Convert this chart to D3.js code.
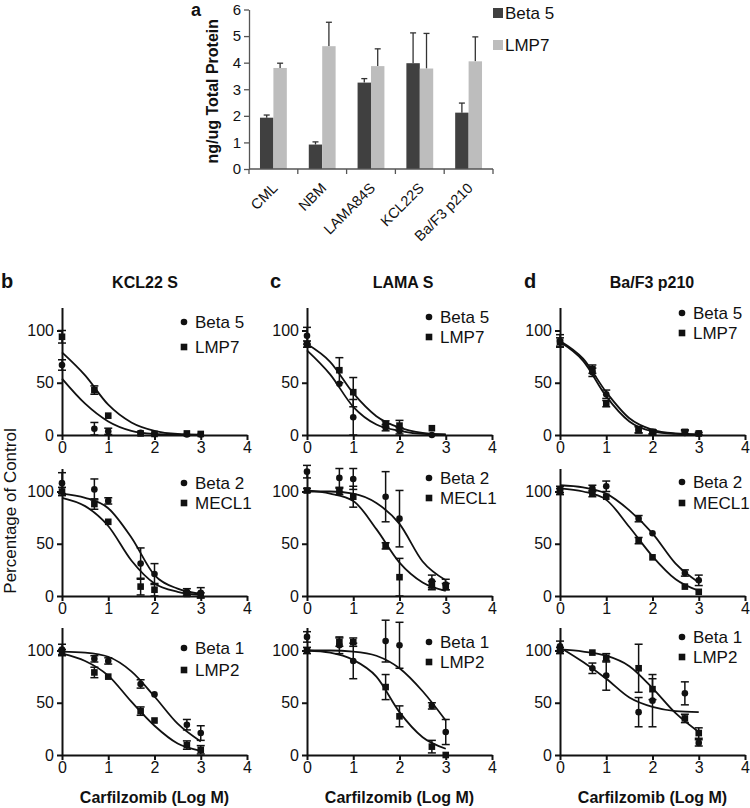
<!DOCTYPE html>
<html><head><meta charset="utf-8">
<script src="https://cdn.jsdelivr.net/npm/d3@7"></script>
<style>
body{margin:0;background:#fff}
svg{display:block}
text{font-family:"Liberation Sans",Arial,Helvetica,sans-serif;fill:#111}
</style>
</head><body>
<svg id="chart" width="750" height="808"></svg>
<script>
// ---------- panel a: bar chart data ----------
const barCats = ["CML", "NBM", "LAMA84S", "KCL22S", "Ba/F3 p210"];
const barSeries = ["Beta 5", "LMP7"];
const beta5Vals = [1.93, 0.92, 3.25, 3.98, 2.12];
const beta5Err  = [0.10, 0.10, 0.15, 1.14, 0.36];
const lmp7Vals  = [3.80, 4.62, 3.87, 3.78, 4.05];
const lmp7Err   = [0.18, 0.90, 0.65, 1.32, 0.92];
const barYTicks = [0, 1, 2, 3, 4, 5, 6];

// ---------- panels b-d: dose response data ----------
const doseLog = [0, 0.7, 1, 1.7, 2, 2.7, 3];
const fitLog  = [0, 0.5, 1, 1.5, 2, 2.5, 3];
const xTicks = [0, 1, 2, 3, 4];
const yTicks = [0, 50, 100];
const cellLines = ["KCL22 S", "LAMA S", "Ba/F3 p210"];
const panelLetters = ["b", "c", "d"];
const subunitPairs = [["Beta 5", "LMP7"], ["Beta 2", "MECL1"], ["Beta 1", "LMP2"]];

// KCL22 S
const kclBeta5 = [67, 6, 3.5, 2, 1, 0.5, 0.5];      const kclBeta5Err = [5, 6, 3, 0, 0, 0, 0];
const kclLmp7  = [94, 43, 18.5, 1.5, 1, 1.5, 1];    const kclLmp7Err  = [6, 4, 0, 0, 0, 0, 0];
const kclBeta5Fit = [54, 30, 13, 4, 1, 0.2, 0];
const kclLmp7Fit  = [79, 57, 29, 12, 4, 1, 0.3];
const kclBeta2 = [108, 102, 91, 31, 21, 4, 3];      const kclBeta2Err = [10, 10, 3, 15, 10, 3, 5];
const kclMecl1 = [100, 88, 71, 9, 6, 2, 1];         const kclMecl1Err = [4, 5, 0, 8, 6, 2, 2];
const kclBeta2Fit = [98, 94, 84, 56, 20, 7, 2];
const kclMecl1Fit = [94, 86, 67, 34, 12, 4, 1];
const kclBeta1 = [101, 92, 90, 68, 58, 29, 21];     const kclBeta1Err = [5, 3, 3, 4, 0, 5, 7];
const kclLmp2  = [98, 79, 75, 42, 33, 9.5, 5];      const kclLmp2Err  = [3, 5, 0, 4, 0, 4, 4];
const kclBeta1Fit = [99, 98, 94, 80, 56, 30, 13];
const kclLmp2Fit  = [97, 90, 76, 51, 28, 11, 4];

// LAMA S
const lamaBeta5 = [95, 49, 17, 7, 4, 0, null];      const lamaBeta5Err = [8, 0, 17, 3, 3, 0, 0];
const lamaLmp7  = [87, 62, 41, 10.5, 9, 6.5, null]; const lamaLmp7Err  = [3, 12, 14, 3, 5, 0, 0];
const lamaBeta5Fit = [81, 58, 27, 10, 4, 1, 0.3];
const lamaLmp7Fit  = [87, 70, 40, 18, 7, 2, 0.5];
const lamaBeta2 = [119, 113, 112, 95, 74, 14, 11];  const lamaBeta2Err = [6, 9, 10, 24, 27, 6, 5];
const lamaMecl1 = [101, 100, 95, 48, 18, 10, 9];    const lamaMecl1Err = [2, 3, 10, 3, 18, 4, 3];
const lamaBeta2Fit = [100, 100, 98, 89, 69, 33, 15];
const lamaMecl1Fit = [101, 98, 91, 64, 32, 13, 5];
const lamaBeta1 = [113, 105, 90, 109, 105, 47, 22]; const lamaBeta1Err = [5, 8, 17, 20, 22, 3, 12];
const lamaLmp2  = [100, 108, 108, 65, 37, 8, 0];    const lamaLmp2Err  = [3, 4, 4, 12, 10, 6, 0];
const lamaBeta1Fit = [100, 100, 99, 95, 83, 61, 33];
const lamaLmp2Fit  = [100, 98, 91, 75, 41, 17, 6];

// Ba/F3 p210
const bafBeta5 = [90, 60, 39, 5, 3, 2, 1.5];        const bafBeta5Err = [6, 4, 4, 3, 2, 2, 0];
const bafLmp7  = [89, 63, 30, 5, 3, 3, 1.5];        const bafLmp7Err  = [4, 4, 3, 3, 2, 2, 1];
const bafBeta5Fit = [90, 73, 41, 16, 5, 1.5, 0.5];
const bafLmp7Fit  = [89, 71, 37, 13, 3.5, 1, 0.3];
const bafBeta2 = [102, 103, 105, 74, 60, 22, 15];   const bafBeta2Err = [3, 3, 5, 3, 0, 3, 5];
const bafMecl1 = [100, 98, 95, 53, 37, 9, 4];       const bafMecl1Err = [3, 3, 0, 3, 0, 0, 0];
const bafBeta2Fit = [106, 104, 98, 82, 60, 31, 13];
const bafMecl1Fit = [103, 100, 92, 66, 38, 16, 5];
const bafBeta1 = [104, 83, 76, 41, 52, 59, 11.6];   const bafBeta1Err = [5, 5, 14, 14, 25, 11, 3];
const bafLmp2  = [100, 98, 93, 83, 63, 35, 21];     const bafLmp2Err  = [3, 0, 4, 23, 10, 4, 5];
const bafBeta1Fit = [103, 89, 73, 55, 46, 42, 41];
const bafLmp2Fit  = [101, 99, 95, 85, 64, 40, 22];

// table built from the arrays above: [row][col]
const ser = (v, e, f) => ({v, e, f});
const panelTable = [
  [[ser(kclBeta5,kclBeta5Err,kclBeta5Fit), ser(kclLmp7,kclLmp7Err,kclLmp7Fit)],
   [ser(lamaBeta5,lamaBeta5Err,lamaBeta5Fit), ser(lamaLmp7,lamaLmp7Err,lamaLmp7Fit)],
   [ser(bafBeta5,bafBeta5Err,bafBeta5Fit), ser(bafLmp7,bafLmp7Err,bafLmp7Fit)]],
  [[ser(kclBeta2,kclBeta2Err,kclBeta2Fit), ser(kclMecl1,kclMecl1Err,kclMecl1Fit)],
   [ser(lamaBeta2,lamaBeta2Err,lamaBeta2Fit), ser(lamaMecl1,lamaMecl1Err,lamaMecl1Fit)],
   [ser(bafBeta2,bafBeta2Err,bafBeta2Fit), ser(bafMecl1,bafMecl1Err,bafMecl1Fit)]],
  [[ser(kclBeta1,kclBeta1Err,kclBeta1Fit), ser(kclLmp2,kclLmp2Err,kclLmp2Fit)],
   [ser(lamaBeta1,lamaBeta1Err,lamaBeta1Fit), ser(lamaLmp2,lamaLmp2Err,lamaLmp2Fit)],
   [ser(bafBeta1,bafBeta1Err,bafBeta1Fit), ser(bafLmp2,bafLmp2Err,bafLmp2Fit)]]
];

const svg = d3.select("#chart");

// ================= Panel a =================
(function(){
  const left = 249, right = 493, bottom = 169, top = 9.5;
  const x = d3.scaleBand().domain(barCats).range([left, right]).padding(0);
  const x1 = d3.scaleBand().domain(barSeries).range([x.bandwidth()*0.225, x.bandwidth()*0.775]);
  const y = d3.scaleLinear().domain([0, 6]).range([bottom, top]);
  const colors = {"Beta 5": "#404040", "LMP7": "#bdbdbd"};
  const g = svg.append("g");
  const rows = [];
  barCats.forEach((c, i) => {
    rows.push({c, s: "Beta 5", v: beta5Vals[i], e: beta5Err[i]});
    rows.push({c, s: "LMP7", v: lmp7Vals[i], e: lmp7Err[i]});
  });
  g.selectAll(".eb").data(rows).join("g").each(function(d){
    const cx = x(d.c) + x1(d.s) + x1.bandwidth()/2;
    const sel = d3.select(this);
    sel.append("line").attr("x1", cx).attr("x2", cx).attr("y1", y(d.v)).attr("y2", y(d.v + d.e))
      .attr("stroke", "#333").attr("stroke-width", 1.3);
    sel.append("line").attr("x1", cx - 3).attr("x2", cx + 3).attr("y1", y(d.v + d.e)).attr("y2", y(d.v + d.e))
      .attr("stroke", "#333").attr("stroke-width", 1.3);
  });
  g.selectAll(".bar").data(rows).join("rect")
    .attr("x", d => x(d.c) + x1(d.s)).attr("width", x1.bandwidth())
    .attr("y", d => y(d.v)).attr("height", d => y(0) - y(d.v))
    .attr("fill", d => colors[d.s]);
  const ya = g.append("g").attr("transform", `translate(${left},0)`)
    .call(d3.axisLeft(y).tickValues(barYTicks).tickFormat(d3.format("d")).tickSize(5).tickSizeOuter(0).tickPadding(3));
  ya.selectAll("text").attr("font-size", 15).attr("fill", "#222");
  ya.selectAll("line, path").attr("stroke", "#555").attr("stroke-width", 1.3);
  const xa = g.append("g");
  xa.append("line").attr("x1", left).attr("x2", right).attr("y1", bottom).attr("y2", bottom)
    .attr("stroke", "#555").attr("stroke-width", 1.3);
  const edges = barCats.map(c => x(c)).concat([x(barCats[barCats.length-1]) + x.step()]);
  xa.selectAll(".tk").data(edges).join("line")
    .attr("x1", d => d).attr("x2", d => d).attr("y1", bottom).attr("y2", bottom + 5)
    .attr("stroke", "#555").attr("stroke-width", 1.3);
  xa.selectAll(".lab").data(barCats).join("text")
    .attr("transform", d => `translate(${x(d) + x.bandwidth()/2 + 5},${bottom + 20}) rotate(-45)`)
    .attr("text-anchor", "end").attr("font-size", 14.5).attr("fill", "#333").text(d => d);
  g.append("text").attr("transform", `translate(218,${(top+bottom)/2 + 2}) rotate(-90)`)
    .attr("text-anchor", "middle").attr("font-size", 16).attr("font-weight", "bold").text("ng/ug Total Protein");
  g.append("text").attr("x", 191).attr("y", 16).attr("font-size", 18).attr("font-weight", "bold").text("a");
  const lg = g.append("g");
  barSeries.forEach((s, i) => {
    const cy = 13 + i*32;
    lg.append("rect").attr("x", 493).attr("y", cy - 5).attr("width", 10).attr("height", 10).attr("fill", colors[s]);
    lg.append("text").attr("x", 505).attr("y", cy + 6).attr("font-size", 17).attr("fill", "#222").text(s);
  });
})();

// ================= Panels b-d =================
const colX0 = [62, 307, 560];
const rowY0 = [435, 596, 755];
const axisW = 185, unitPx = 1.045;
const titleX = [145, 403, 652];
const letterX = [1, 270, 524];
const legTop = [[113, 118, 122], [113, 118, 114], [107, 113, 118]];
const legGap = [[25, 20, 20], [20, 20, 21], [22, 20, 20]];

function marker(sel, kind, cx, cy) {
  if (kind === 0) sel.append("circle").attr("cx", cx).attr("cy", cy).attr("r", 3.3).attr("fill", "#111");
  else sel.append("rect").attr("x", cx - 3.3).attr("y", cy - 3.3).attr("width", 6.6).attr("height", 6.6).attr("fill", "#111");
}

for (let r = 0; r < 3; r++) {
  for (let c = 0; c < 3; c++) {
    const x0 = colX0[c], y0 = rowY0[r];
    const x = d3.scaleLinear().domain([0, 4]).range([x0, x0 + axisW]);
    const y = d3.scaleLinear().domain([0, 122]).range([y0, y0 - 122*unitPx]);
    const g = svg.append("g");
    const pd = panelTable[r][c];
    const line = d3.line().x(d => x(d[0])).y(d => y(d[1])).curve(d3.curveMonotoneX);
    pd.forEach(s => {
      g.append("path").datum(fitLog.map((lx, i) => [lx, s.f[i]]))
        .attr("d", line).attr("fill", "none").attr("stroke", "#111").attr("stroke-width", 1.8);
    });
    pd.forEach((s, k) => {
      doseLog.forEach((lx, i) => {
        const v = s.v[i];
        if (v == null) return;
        const e = s.e[i];
        const cx = x(lx);
        if (e > 0) {
          g.append("line").attr("x1", cx).attr("x2", cx).attr("y1", y(v - e)).attr("y2", y(v + e))
            .attr("stroke", "#111").attr("stroke-width", 1.5);
          [v - e, v + e].forEach(t => g.append("line").attr("x1", cx - 4).attr("x2", cx + 4)
            .attr("y1", y(t)).attr("y2", y(t)).attr("stroke", "#111").attr("stroke-width", 1.5));
        }
        marker(g, k, cx, y(v));
      });
    });
    const ya = g.append("g").attr("transform", `translate(${x0},0)`)
      .call(d3.axisLeft(y).tickValues(yTicks).tickSize(5).tickSizeOuter(0).tickPadding(3));
    const xa = g.append("g").attr("transform", `translate(0,${y0})`)
      .call(d3.axisBottom(x).tickValues(xTicks).tickFormat(d3.format("d")).tickSize(5).tickSizeOuter(0).tickPadding(2));
    [ya, xa].forEach(a => {
      a.selectAll("path, line").attr("stroke", "#111").attr("stroke-width", 2);
      a.selectAll("text").attr("font-size", 16).attr("fill", "#111");
    });
    subunitPairs[r].forEach((name, k) => {
      const cy = y0 - legTop[r][c] + k*legGap[r][c];
      marker(g, k, x0 + 122, cy);
      g.append("text").attr("x", x0 + 133).attr("y", cy + 6).attr("font-size", 17).attr("fill", "#222").text(name);
    });
    if (r === 0) {
      g.append("text").attr("x", titleX[c]).attr("y", 288).attr("text-anchor", "middle")
        .attr("font-size", 16).attr("font-weight", "bold").text(cellLines[c]);
      g.append("text").attr("x", letterX[c]).attr("y", 288)
        .attr("font-size", 20).attr("font-weight", "bold").text(panelLetters[c]);
    }
    if (r === 2) {
      g.append("text").attr("x", x0 + axisW/2).attr("y", 803).attr("text-anchor", "middle")
        .attr("font-size", 16).attr("font-weight", "bold").text("Carfilzomib (Log M)");
    }
  }
}
svg.append("text").attr("transform", "translate(16,511) rotate(-90)").attr("text-anchor", "middle")
  .attr("font-size", 17).text("Percentage of Control");
</script>
</body></html>
